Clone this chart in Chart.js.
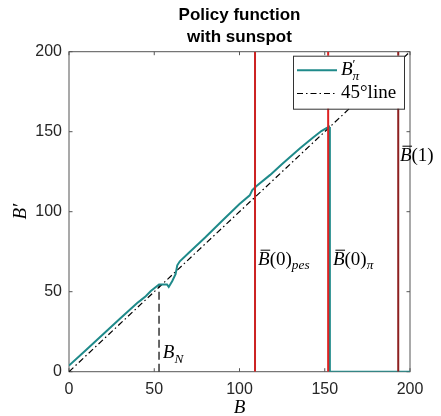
<!DOCTYPE html>
<html>
<head>
<meta charset="utf-8">
<script src="https://cdn.jsdelivr.net/npm/chart.js@4.4.1/dist/chart.umd.min.js"></script>
<style>
  body { margin: 0; background: #fff; }
</style>
</head>
<body>
<canvas id="policyChart" width="441" height="416"></canvas>
<script>
// policy function B'_pi on the B grid (drops to 0 past B(0)_pi)
const bGrid    = [0, 10, 20, 30, 40, 42, 45, 48, 52.8, 57.5, 58.5, 60.5, 62.5, 63.5, 65, 70, 80, 90, 100, 106, 107.5, 110, 118, 125, 135.5, 143, 148, 151, 152.5, 153, 153, 200];
const policyPi = [3.8, 13.6, 23.4, 33.2, 43, 44.6, 47.2, 50.4, 54.5, 54.5, 53, 56.5, 61, 66.5, 69, 74, 84, 94.5, 104.8, 110.2, 113.5, 116, 123, 129.8, 139.6, 146.2, 150.4, 152.2, 153, 153, 0, 0];

// 45 degree line
const diagB = [0, 200];

// thresholds B(0)_pes, B(0)_pi, B(1)
const thresholdB      = [109.1, 152, 193.1];
const thresholdColors = ['#cc2222', '#dd2222', '#8e2020'];

// B_N marker
const bN = 52.8;
const bNPolicy = 54.5;

const axisTicks = [0, 50, 100, 150, 200];

// text labels: anchor in (B, B') coords
const noteB  = [110.9, 154.8, 194.1, 55];
const noteBp = [70, 70, 135, 11.5];
const noteParts = [
  [{ t: 'B', it: true, bar: true }, { t: '(0)' }, { t: 'pes', it: true, sub: true }],
  [{ t: 'B', it: true, bar: true }, { t: '(0)' }, { t: 'π', it: true, sub: true }],
  [{ t: 'B', it: true, bar: true }, { t: '(1)' }],
  [{ t: 'B', it: true }, { t: 'N', it: true, sub: true }]
];

const legendParts = [
  [{ t: 'B', it: true }, { t: '′', sup: true, stack: true }, { t: 'π', it: true, sub: true }],
  [{ t: '45°line' }]
];

const SERIF = '"Liberation Serif", "Times New Roman", serif';
const SANS  = '"Liberation Sans", Arial, sans-serif';

// draws a small piece of math: italics, overbar, sub/superscripts
function drawMath(ctx, parts, x, y, size) {
  let cx = x;
  ctx.textBaseline = 'middle';
  ctx.textAlign = 'left';
  parts.forEach(p => {
    const small = p.sub || p.sup;
    const s = small ? size * 0.7 : size;
    ctx.font = (p.it ? 'italic ' : '') + s + 'px ' + SERIF;
    const dy = p.sub ? size * 0.32 : p.sup ? -size * 0.3 : 0;
    ctx.fillText(p.t, cx, y + dy);
    const w = ctx.measureText(p.t).width;
    if (p.bar) {
      ctx.save();
      ctx.lineWidth = 1;
      ctx.strokeStyle = ctx.fillStyle;
      ctx.beginPath();
      ctx.moveTo(cx + 2.5, y - size * 0.5);
      ctx.lineTo(cx + w + 0.5, y - size * 0.5);
      ctx.stroke();
      ctx.restore();
    }
    if (!p.stack) cx += w;
  });
}

// box + inward tick marks on all four sides
const framePlugin = {
  id: 'frame',
  beforeDatasetsDraw(chart) {
    const { ctx, chartArea: a, scales } = chart;
    const len = 3.5;
    ctx.save();
    ctx.strokeStyle = '#555';
    ctx.lineWidth = 1;
    ctx.strokeRect(a.left, a.top, a.right - a.left, a.bottom - a.top);
    ctx.beginPath();
    axisTicks.forEach(v => {
      const px = scales.x.getPixelForValue(v);
      ctx.moveTo(px, a.bottom); ctx.lineTo(px, a.bottom - len);
      ctx.moveTo(px, a.top);    ctx.lineTo(px, a.top + len);
      const py = scales.y.getPixelForValue(v);
      ctx.moveTo(a.left, py);   ctx.lineTo(a.left + len, py);
      ctx.moveTo(a.right, py);  ctx.lineTo(a.right - len, py);
    });
    ctx.stroke();
    ctx.restore();
  }
};

// annotations inside the plot
const notesPlugin = {
  id: 'notes',
  afterDatasetsDraw(chart) {
    const { ctx, scales } = chart;
    ctx.save();
    ctx.fillStyle = '#000';
    noteParts.forEach((parts, i) => {
      drawMath(ctx, parts, scales.x.getPixelForValue(noteB[i]), scales.y.getPixelForValue(noteBp[i]), 19);
    });
    ctx.restore();
  }
};

// legend box in the upper right corner of the axes
const insetLegend = {
  id: 'insetLegend',
  afterDraw(chart) {
    const { ctx, chartArea: a } = chart;
    const w = 111, h = 53;
    const left = a.right - 6 - w, top = a.top + 4;
    ctx.save();
    ctx.fillStyle = '#fff';
    ctx.fillRect(left, top, w, h);
    ctx.strokeStyle = '#333';
    ctx.lineWidth = 1;
    ctx.strokeRect(left + 0.5, top + 0.5, w, h);
    [0, 1].forEach(i => {
      const ds = chart.data.datasets[i];
      const y = top + 14.5 + i * 23.3;
      ctx.strokeStyle = ds.borderColor;
      ctx.lineWidth = ds.borderWidth;
      ctx.setLineDash(ds.borderDash || []);
      ctx.beginPath();
      ctx.moveTo(left + 4, y);
      ctx.lineTo(left + 44, y);
      ctx.stroke();
      ctx.setLineDash([]);
      ctx.fillStyle = '#000';
      drawMath(ctx, legendParts[i], left + 48, y, 19);
    });
    ctx.restore();
  }
};

const policyData = bGrid.map((b, i) => ({ x: b, y: policyPi[i] }));
const diagData   = diagB.map(b => ({ x: b, y: b }));

const thresholdSets = thresholdB.map((b, i) => ({
  label: 'threshold ' + i,
  data: [{ x: b, y: axisTicks[0] }, { x: b, y: axisTicks[axisTicks.length - 1] }],
  borderColor: thresholdColors[i],
  borderWidth: 2,
  order: 0
}));

new Chart(document.getElementById('policyChart').getContext('2d'), {
  type: 'scatter',
  data: {
    datasets: [
      { label: "B'_pi", data: policyData, borderColor: '#1f8a8a', borderWidth: 2, order: 1 },
      { label: '45 line', data: diagData, borderColor: '#000', borderWidth: 1.2, borderDash: [6, 3, 1.5, 3], order: 2 },
      { label: 'B_N', data: [{ x: bN, y: 0 }, { x: bN, y: bNPolicy }], borderColor: '#000', borderWidth: 1.2, borderDash: [8, 4], order: 3 },
      ...thresholdSets
    ].map(ds => Object.assign({ showLine: true, pointRadius: 0, pointHoverRadius: 0, tension: 0, fill: false }, ds))
  },
  options: {
    responsive: false,
    animation: false,
    layout: { padding: { left: 0, right: 31, top: 0, bottom: 0 } },
    plugins: {
      legend: { display: false },
      tooltip: { enabled: false },
      title: {
        display: true,
        fullSize: false,
        text: ['Policy function', 'with sunspot'],
        color: '#000',
        font: { family: SANS, size: 17, weight: 'bold', lineHeight: 1.294 },
        padding: { top: 4, bottom: 3.7 }
      }
    },
    scales: {
      x: {
        type: 'linear', min: 0, max: 200,
        afterFit: s => { s.height = 44.3; },
        afterBuildTicks: s => { s.ticks = axisTicks.map(v => ({ value: v })); },
        grid: { display: false, drawTicks: false },
        border: { display: false },
        ticks: { color: '#262626', padding: 8, font: { family: SANS, size: 16 }, maxRotation: 0 },
        title: { display: true, text: 'B', color: '#000', padding: 0, font: { family: SERIF, size: 19, style: 'italic', lineHeight: 0.8 } }
      },
      y: {
        type: 'linear', min: 0, max: 200,
        afterFit: s => { s.width = 69; },
        afterBuildTicks: s => { s.ticks = axisTicks.map(v => ({ value: v })); },
        grid: { display: false, drawTicks: false },
        border: { display: false },
        ticks: { color: '#262626', padding: 7, font: { family: SANS, size: 16 } },
        title: { display: true, text: 'B′', color: '#000', padding: { top: 11.5 }, font: { family: SERIF, size: 19, style: 'italic', lineHeight: 1 } }
      }
    }
  },
  plugins: [framePlugin, notesPlugin, insetLegend]
});
</script>
</body>
</html>
